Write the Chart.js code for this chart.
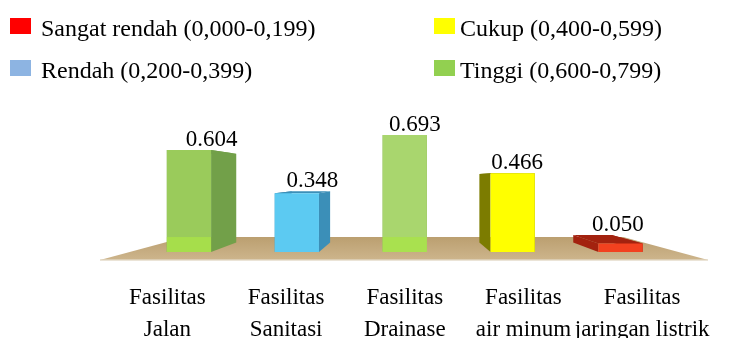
<!DOCTYPE html>
<html>
<head>
<meta charset="utf-8">
<script src="https://cdn.jsdelivr.net/npm/chart.js@4.4.1/dist/chart.umd.min.js"></script>
<style>
  html, body { margin: 0; padding: 0; background: #ffffff; }
  #wrap { position: relative; width: 729px; height: 338px; overflow: hidden; }
  #c { position: absolute; left: 0; top: 0; }
  .lg { position: absolute; font-family: "Liberation Serif", "Times New Roman", serif; font-size: 24px; line-height: 24px; color: #000; white-space: nowrap; }
  .sw { position: absolute; width: 21px; height: 16px; }
</style>
</head>
<body>
<div id="wrap">
  <canvas id="c" width="729" height="338"></canvas>
  <div id="legend"></div>
</div>
<script>
// ---- data ----
const categories = [
  ["Fasilitas", "Jalan"],
  ["Fasilitas", "Sanitasi"],
  ["Fasilitas", "Drainase"],
  ["Fasilitas", "air minum"],
  ["Fasilitas", "jaringan listrik"]
];
const values = [0.604, 0.348, 0.693, 0.466, 0.050];
const valueLabels = ["0.604", "0.348", "0.693", "0.466", "0.050"];
const legendLabels = [
  "Sangat rendah (0,000-0,199)",
  "Cukup (0,400-0,599)",
  "Rendah (0,200-0,399)",
  "Tinggi (0,600-0,799)"
];
const legendColors = ["#ff0000", "#ffff00", "#8db4e2", "#92d050"];
const frontColors = ["#9acb5b", "#5ccaf2", "#a9d66e", "#ffff00", "#f2411f"];
const sideColors  = ["#72a049", "#3b8fb8", "#7fa84e", "#7c7c00", "#a3220f"];
const bandColors  = ["rgba(170,228,70,0.75)", null, "rgba(170,228,70,0.75)", null, null];

// ---- legend (2 x 2 grid) ----
const legendPos = [[10, 18, 41, 16], [434, 18, 460, 16], [10, 60, 41, 58], [434, 60, 460, 58]];
const lg = document.getElementById('legend');
legendLabels.forEach((t, i) => {
  const p = legendPos[i];
  const s = document.createElement('div');
  s.className = 'sw';
  s.style.left = p[0] + 'px'; s.style.top = p[1] + 'px';
  s.style.background = legendColors[i];
  lg.appendChild(s);
  const d = document.createElement('div');
  d.className = 'lg';
  d.style.left = p[2] + 'px'; d.style.top = p[3] + 'px';
  d.textContent = t;
  lg.appendChild(d);
});

const FONT = '"Liberation Serif", "Times New Roman", serif';
const DEPTH = 0.87;       // back/front scale of bars
const FLOOR_DEPTH = 0.72; // back/front scale of floor
const LABEL_DEPTH = 1.10; // category labels sit in front of the bars

function persp(chart) {
  const a = chart.chartArea;
  return { vx: (a.left + a.right) / 2, vy: a.bottom - 74 };
}

const threeD = {
  id: 'threeD',
  beforeDatasetsDraw(chart) {
    const ctx = chart.ctx;
    const a = chart.chartArea;
    const { vx, vy } = persp(chart);
    const P = (x, y, s) => [vx + s * (x - vx), vy + s * (y - vy)];
    // floor
    const fy = a.bottom + 8;
    const fl = a.left - 35, fr = a.right + 33.5;
    const b1 = P(fl, fy, FLOOR_DEPTH), b2 = P(fr, fy, FLOOR_DEPTH);
    ctx.save();
    const g = ctx.createLinearGradient(0, b1[1], 0, fy);
    g.addColorStop(0, '#bb9f70');
    g.addColorStop(1, '#cdb58c');
    ctx.fillStyle = g;
    ctx.beginPath();
    ctx.moveTo(fl, fy); ctx.lineTo(b1[0], b1[1]); ctx.lineTo(b2[0], b2[1]); ctx.lineTo(fr, fy);
    ctx.closePath(); ctx.fill();
    ctx.strokeStyle = 'rgba(225,215,195,0.9)';
    ctx.lineWidth = 1.5;
    ctx.beginPath(); ctx.moveTo(fl, fy); ctx.lineTo(fr, fy); ctx.stroke();
    // sides and tops of bars
    const meta = chart.getDatasetMeta(0);
    meta.data.forEach((bar, i) => {
      const w = bar.width;
      const L = bar.x - w / 2, R = bar.x + w / 2, T = bar.y, B = bar.base;
      ctx.fillStyle = sideColors[i];
      const faces = [
        [[L, T], [L, B], P(L, B, DEPTH), P(L, T, DEPTH)],
        [[R, T], [R, B], P(R, B, DEPTH), P(R, T, DEPTH)],
        [[L, T], [R, T], P(R, T, DEPTH), P(L, T, DEPTH)]
      ];
      faces.forEach(f => {
        ctx.beginPath();
        ctx.moveTo(f[0][0], f[0][1]);
        for (let k = 1; k < f.length; k++) ctx.lineTo(f[k][0], f[k][1]);
        ctx.closePath(); ctx.fill();
      });
    });
    ctx.restore();
  },
  afterDatasetsDraw(chart) {
    const ctx = chart.ctx;
    const a = chart.chartArea;
    const { vx, vy } = persp(chart);
    const P = (x, y, s) => [vx + s * (x - vx), vy + s * (y - vy)];
    const floorBackY = P(0, a.bottom + 8, FLOOR_DEPTH)[1];
    const meta = chart.getDatasetMeta(0);
    ctx.save();
    meta.data.forEach((bar, i) => {
      const w = bar.width;
      const L = bar.x - w / 2, R = bar.x + w / 2, T = bar.y, B = bar.base;
      // lighter band where the bar stands in the floor
      if (bandColors[i]) {
        const top = Math.max(T, floorBackY);
        ctx.fillStyle = bandColors[i];
        ctx.fillRect(L, top, w, B - top);
      }
      // value label
      const bl = P(L, T, DEPTH), br = P(R, T, DEPTH);
      const minX = Math.min(L, bl[0]), maxX = Math.max(R, br[0]);
      const topY = Math.min(T, bl[1]);
      ctx.fillStyle = '#000';
      ctx.font = '23px ' + FONT;
      ctx.textAlign = 'center';
      ctx.textBaseline = 'alphabetic';
      ctx.fillText(valueLabels[i], (minX + maxX) / 2 + 10, topY - 4);
    });
    // category labels from the x scale
    const xs = chart.scales.x;
    ctx.font = '23px ' + FONT;
    ctx.textAlign = 'center';
    ctx.fillStyle = '#000';
    categories.forEach((lines, i) => {
      const x = P(xs.getPixelForValue(i), 0, LABEL_DEPTH)[0];
      lines.forEach((t, j) => ctx.fillText(t, x, a.bottom + 52 + j * 32));
    });
    ctx.restore();
  }
};

new Chart(document.getElementById('c'), {
  type: 'bar',
  data: {
    labels: categories.map(c => c.join(' ')),
    datasets: [{
      data: values,
      backgroundColor: frontColors,
      borderWidth: 0,
      barPercentage: 0.41,
      categoryPercentage: 1.0
    }]
  },
  options: {
    responsive: false,
    animation: false,
    devicePixelRatio: 1,
    layout: { padding: { left: 135, right: 54.5, top: 117, bottom: 86 } },
    plugins: { legend: { display: false }, tooltip: { enabled: false } },
    scales: {
      x: { display: false, offset: true },
      y: { display: false, min: 0, max: 0.8 }
    }
  },
  plugins: [threeD]
});
</script>
</body>
</html>
